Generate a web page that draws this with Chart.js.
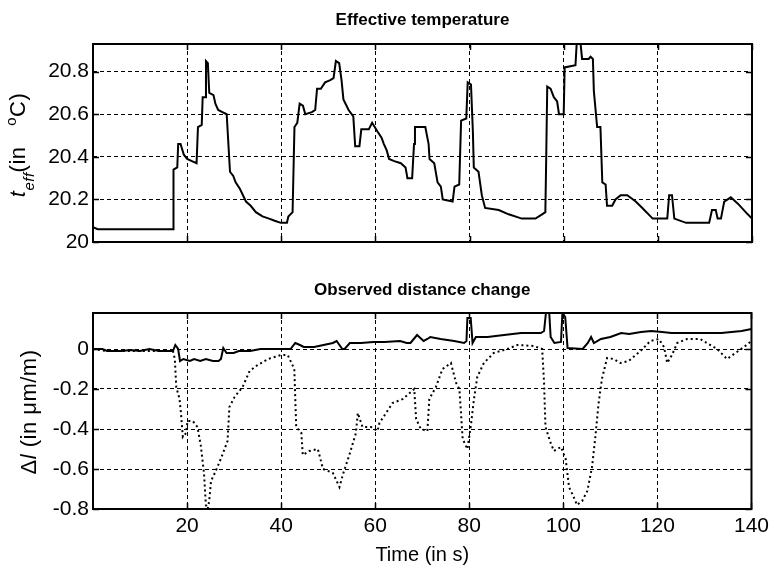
<!DOCTYPE html>
<html>
<head>
<meta charset="utf-8">
<title>Effective temperature / Observed distance change</title>
<script src="https://cdn.jsdelivr.net/npm/chart.js@4"></script>
<style>
  body { margin: 0; background: #fff; width: 774px; height: 574px; position: relative; overflow: hidden;
         font-family: "Liberation Sans", Arial, sans-serif; color: #000; }
  canvas { position: absolute; left: 0; }
  #tempChart { top: 0; }
  #distChart { top: 260px; }
  .ylab { position: absolute; white-space: nowrap; font-size: 22px; line-height: 22px;
          transform: translate(-50%, -50%) rotate(-90deg); letter-spacing: 0.5px; }
  .ylab sub, .ylab sup { font-size: 15px; line-height: 0; }
</style>
</head>
<body>
  <canvas id="tempChart" width="774" height="260"></canvas>
  <canvas id="distChart" width="774" height="314"></canvas>

  <div class="ylab" style="left:18px; top:145px"><i>t</i><sub style="vertical-align:-9px"><i>eff</i></sub>(in<span style="margin-left:14px"></span> <sup style="vertical-align:9px">o</sup>C)</div>
  <div class="ylab" style="left:29px; top:412px">&Delta;<i>l</i> (in &mu;m/m)</div>

<script>
const FONT = '"Liberation Sans", Arial, sans-serif';

// x axis (time, s)
const xTicks = [20, 40, 60, 80, 100, 120, 140];

// top plot: effective temperature (deg C)
const tempTicks = [20, 20.2, 20.4, 20.6, 20.8];
const tempTickLabels = ['20', '20.2', '20.4', '20.6', '20.8'];
const tempTime = [0, 1, 17, 17.1, 17.9, 18.1, 18.6, 19.3, 20, 21, 22, 22.3, 23.1, 23.3, 23.8, 24, 24.4, 24.7, 25.6, 26,
  26.6, 27.5, 28.4, 29.1, 29.8, 30.3, 31.2, 32.5, 33.5, 34.6, 36, 37.4, 38.6, 39.9, 41.2, 41.5, 42.4, 42.8, 43.4, 43.9,
  44.6, 45.1, 46.5, 47.2, 47.6, 48.4, 49.3, 50.4, 51.1, 51.6, 52.3, 52.8, 53.2, 54.3, 55.3, 55.7, 56.6, 57, 58.6, 59.3,
  60.4, 61.3, 61.8, 62.4, 62.9, 64, 65.4, 66.4, 66.8, 67.8, 68.2, 68.4, 70.6, 71.3, 71.5, 72.5, 73.2, 73.9, 74.3, 76.4,
  76.8, 77.8, 78.2, 79.3, 79.6, 80.3, 80.7, 80.9, 81.9, 82.6, 83.3, 86.2, 88.3, 91.1, 94, 95.4, 96.1, 96.3, 96.5, 97.2,
  97.9, 98.6, 99, 100, 100.2, 102.5, 102.8, 103.5, 103.9, 105.3, 105.7, 106.2, 106.4, 107.1, 107.8, 108.2, 108.9, 109.2, 110.3, 111,
  112.1, 113.5, 115.3, 116.7, 118.9, 122, 122.4, 123, 123.5, 126, 130.9, 131.5, 132.3, 132.7, 133.4, 134.1, 135.5, 137, 139.1, 140];
const tempValue = [20.07, 20.06, 20.06, 20.34, 20.35, 20.46, 20.46, 20.41, 20.39, 20.38, 20.37, 20.54, 20.55, 20.68, 20.68, 20.85, 20.84, 20.70, 20.69, 20.65,
  20.62, 20.61, 20.60, 20.33, 20.31, 20.28, 20.25, 20.19, 20.17, 20.14, 20.12, 20.11, 20.10, 20.09, 20.09, 20.12, 20.14, 20.54, 20.56, 20.65,
  20.64, 20.60, 20.61, 20.62, 20.72, 20.72, 20.75, 20.76, 20.77, 20.85, 20.84, 20.76, 20.67, 20.62, 20.59, 20.45, 20.45, 20.53, 20.53, 20.56,
  20.52, 20.49, 20.46, 20.43, 20.39, 20.38, 20.37, 20.35, 20.30, 20.30, 20.46, 20.54, 20.54, 20.46, 20.39, 20.37, 20.28, 20.26, 20.20, 20.19,
  20.26, 20.27, 20.57, 20.58, 20.75, 20.74, 20.52, 20.35, 20.33, 20.22, 20.16, 20.15, 20.13, 20.11, 20.11, 20.13, 20.14, 20.42, 20.73, 20.72,
  20.68, 20.66, 20.60, 20.60, 20.82, 20.83, 20.95, 20.95, 20.86, 20.86, 20.87, 20.86, 20.71, 20.54, 20.54, 20.28, 20.27, 20.17, 20.17, 20.20,
  20.22, 20.22, 20.19, 20.16, 20.11, 20.11, 20.22, 20.22, 20.11, 20.09, 20.09, 20.15, 20.15, 20.11, 20.11, 20.19, 20.21, 20.18, 20.13, 20.11];

// bottom plot: observed distance change (um/m), solid and dotted series
const distTicks = [-0.8, -0.6, -0.4, -0.2, 0];
const distTickLabels = ['-0.8', '-0.6', '-0.4', '-0.2', '0'];
const solidTime = [0, 2, 3, 6, 8, 10, 12, 14, 17, 17.5, 18.1, 18.5, 19.2, 20.6, 21.5, 22.8, 24, 25.5, 26.7, 27.2,
  27.7, 28.4, 29.9, 31, 33.4, 35.6, 41.3, 42, 43, 44, 44.8, 47, 49, 51, 51.8, 53, 53.5, 54.6, 57, 59.6,
  62, 65.3, 66.7, 67.5, 68.9, 70.3, 71.1, 71.7, 73.9, 76.8, 78.9, 79.4, 79.6, 80.3, 80.7, 81.4, 83.9, 87.4, 91, 95.2,
  95.9, 96.3, 97, 97.3, 98.1, 99.5, 99.8, 100.4, 100.9, 104.1, 105.2, 105.9, 106.5, 108, 110, 112.3, 114, 116.5, 118.7, 121,
  123, 126.5, 130.1, 133.6, 137.9, 140];
const solidValue = [0, 0, -0.01, -0.01, -0.005, -0.01, 0, -0.01, -0.01, 0.02, 0, -0.06, -0.05, -0.06, -0.05, -0.06, -0.05, -0.06, -0.06, -0.05,
  0.005, -0.02, -0.02, -0.01, -0.01, 0, 0, 0, 0.03, 0.02, 0.01, 0.01, 0.02, 0.03, 0.04, 0, 0, 0.03, 0.03, 0.035,
  0.035, 0.04, 0.03, 0.03, 0.07, 0.04, 0.05, 0.06, 0.05, 0.04, 0.03, 0.04, 0.155, 0.155, 0.03, 0.06, 0.06, 0.07, 0.08, 0.08,
  0.09, 0.18, 0.18, 0.06, 0.03, 0.035, 0.18, 0.16, 0.005, 0, 0.03, 0.06, 0.03, 0.05, 0.06, 0.08, 0.075, 0.085, 0.09, 0.085,
  0.08, 0.08, 0.08, 0.08, 0.09, 0.1];
const dottedTime = [0, 3, 6, 10, 14, 17, 17.4, 17.7, 18.4, 18.7, 19.1, 19.8, 20.1, 21.2, 22.2, 22.9, 23.6, 24, 24.4, 24.7,
  25.1, 26.1, 27.5, 28.6, 29, 30.1, 31.8, 33.3, 35, 37.2, 40, 41.4, 42.8, 43.2, 44.3, 44.6, 46, 47.8, 48.9, 51,
  52.4, 53.1, 54.5, 55.9, 56.3, 57.3, 59.1, 60.5, 60.9, 62.3, 63.7, 65.9, 68.3, 68.7, 69.7, 71.1, 71.5, 72.9, 74.3, 76.1,
  77.2, 77.9, 78.6, 79.6, 80.3, 81, 81.7, 83.1, 85.2, 88.1, 90.2, 93.7, 95.5, 95.9, 96.2, 97.3, 98, 99.5, 100.5, 101.2,
  102.2, 102.9, 104, 105.1, 106.1, 106.8, 107.5, 108.2, 109.3, 110.7, 112.1, 113.9, 116.4, 118.5, 120.3, 121.4, 122.1, 123.1, 124.2, 126.3,
  129.1, 130.5, 132.7, 134.8, 136.6, 138.4, 140];
const dottedValue = [0, -0.01, -0.01, -0.01, -0.01, -0.01, -0.05, -0.19, -0.25, -0.32, -0.44, -0.42, -0.36, -0.36, -0.39, -0.48, -0.62, -0.78, -0.8, -0.76,
  -0.66, -0.61, -0.53, -0.46, -0.29, -0.24, -0.19, -0.11, -0.08, -0.05, -0.03, -0.03, -0.10, -0.39, -0.42, -0.53, -0.51, -0.50, -0.60, -0.62,
  -0.69, -0.63, -0.53, -0.42, -0.32, -0.39, -0.39, -0.41, -0.37, -0.32, -0.27, -0.25, -0.20, -0.35, -0.40, -0.41, -0.25, -0.19, -0.10, -0.07,
  -0.17, -0.20, -0.45, -0.50, -0.39, -0.25, -0.14, -0.07, -0.02, 0, 0.02, 0.015, 0, -0.17, -0.39, -0.47, -0.51, -0.49, -0.55, -0.69,
  -0.74, -0.78, -0.76, -0.71, -0.59, -0.44, -0.27, -0.15, -0.045, -0.05, -0.07, -0.06, -0.01, 0.04, 0.05, 0.01, -0.07, -0.03, 0.03, 0.05,
  0.05, 0.03, 0, -0.05, -0.02, 0.01, 0.04];

function pts(xs, ys) { return xs.map((x, i) => ({ x: x, y: ys[i] })); }

// black frame round the plot area with short inward ticks (matlab look)
const framePlugin = {
  id: 'frame',
  afterDraw(chart) {
    const { ctx, chartArea: a, scales } = chart;
    ctx.save();
    ctx.setLineDash([]);
    ctx.strokeStyle = '#000';
    ctx.lineWidth = 1.5;
    ctx.beginPath();
    scales.y.ticks.forEach(t => {
      const y = Math.round(scales.y.getPixelForValue(t.value)) + 0.5;
      ctx.moveTo(a.left, y); ctx.lineTo(a.left + 6, y);
      ctx.moveTo(a.right, y); ctx.lineTo(a.right - 6, y);
    });
    scales.x.ticks.forEach(t => {
      const x = Math.round(scales.x.getPixelForValue(t.value)) + 0.5;
      ctx.moveTo(x, a.top); ctx.lineTo(x, a.top + 6);
      ctx.moveTo(x, a.bottom); ctx.lineTo(x, a.bottom - 6);
    });
    ctx.stroke();
    ctx.lineWidth = 2;
    ctx.strokeRect(a.left, a.top, a.right - a.left, a.bottom - a.top);
    ctx.restore();
  }
};

const gridOpts = { color: '#000', lineWidth: 1, drawTicks: false };
const borderOpts = { display: false, dash: [4, 3] };

new Chart(document.getElementById('tempChart'), {
  type: 'line',
  data: {
    datasets: [{
      data: pts(tempTime, tempValue),
      borderColor: '#000', borderWidth: 2, pointRadius: 0, tension: 0
    }]
  },
  options: {
    responsive: false,
    animation: false,
    layout: { padding: { left: 0, right: 22, top: 0, bottom: 18 } },
    plugins: {
      legend: { display: false },
      tooltip: { enabled: false },
      title: {
        display: true, text: 'Effective temperature', color: '#000', fullSize: false,
        font: { family: FONT, size: 17, weight: 'bold' }, padding: { top: 10, bottom: 13.6 }
      }
    },
    scales: {
      x: {
        type: 'linear', min: 0, max: 140,
        afterBuildTicks: s => { s.ticks = xTicks.map(v => ({ value: v })); },
        afterFit: s => { s.height = 0; },
        ticks: { display: false },
        grid: gridOpts, border: borderOpts
      },
      y: {
        min: 20, max: 20.93,
        afterBuildTicks: s => { s.ticks = tempTicks.map(v => ({ value: v })); },
        afterFit: s => { s.width = 93; },
        ticks: { color: '#000', font: { family: FONT, size: 21 }, padding: 4, callback: (v, i) => tempTickLabels[i] },
        grid: gridOpts, border: borderOpts
      }
    }
  },
  plugins: [framePlugin]
});

new Chart(document.getElementById('distChart'), {
  type: 'line',
  data: {
    datasets: [
      { data: pts(solidTime, solidValue), borderColor: '#000', borderWidth: 2, pointRadius: 0, tension: 0, order: 0 },
      { data: pts(dottedTime, dottedValue), borderColor: '#000', borderWidth: 2, borderDash: [2, 3], pointRadius: 0, tension: 0, order: 1 }
    ]
  },
  options: {
    responsive: false,
    animation: false,
    layout: { padding: { left: 0, right: 22, top: 0, bottom: 0 } },
    plugins: {
      legend: { display: false },
      tooltip: { enabled: false },
      title: {
        display: true, text: 'Observed distance change', color: '#000', fullSize: false,
        font: { family: FONT, size: 17, weight: 'bold' }, padding: { top: 20, bottom: 12.6 }
      }
    },
    scales: {
      x: {
        type: 'linear', min: 0, max: 140,
        afterBuildTicks: s => { s.ticks = xTicks.map(v => ({ value: v })); },
        afterFit: s => { s.height = 65; },
        ticks: { color: '#000', font: { family: FONT, size: 21 }, padding: 5, maxRotation: 0, callback: v => String(v) },
        title: { display: true, text: 'Time (in s)', color: '#000', font: { family: FONT, size: 20 }, padding: { top: 0, bottom: 7 } },
        grid: gridOpts, border: borderOpts
      },
      y: {
        min: -0.8, max: 0.18,
        afterBuildTicks: s => { s.ticks = distTicks.map(v => ({ value: v })); },
        afterFit: s => { s.width = 93; },
        ticks: { color: '#000', font: { family: FONT, size: 21 }, padding: 4, callback: (v, i) => distTickLabels[i] },
        grid: gridOpts, border: borderOpts
      }
    }
  },
  plugins: [framePlugin]
});
</script>
</body>
</html>
